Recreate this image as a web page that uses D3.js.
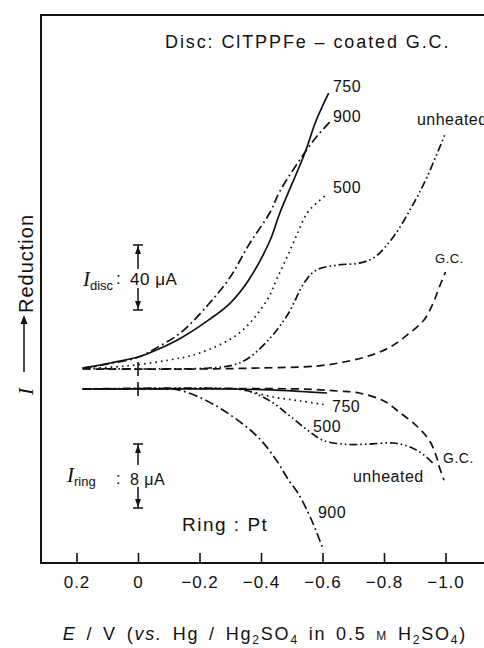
<!DOCTYPE html>
<html>
<head>
<meta charset="utf-8">
<script src="https://cdn.jsdelivr.net/npm/d3@7"></script>
<style>
body { margin: 0; background: #fff; }
svg text { font-family: "Liberation Sans", Arial, sans-serif; fill: #111; }
</style>
</head>
<body>
<svg id="chart" width="484" height="648"></svg>
<script>
// curves: [E / V vs Hg/Hg2SO4, I / µA]
const disc750 = [[0.18,0.5],[0.09,3.7],[0.0,7.4],[-0.06,11.7],[-0.14,19.1],[-0.23,30.2],[-0.30,40.6],[-0.36,54.8],[-0.43,79.4],[-0.46,95.4],[-0.54,131.7],[-0.58,153.2],[-0.62,169.8]];
const disc900 = [[0.18,0.5],[0.09,3.4],[0.0,7.2],[-0.06,13],[-0.14,22.5],[-0.23,40],[-0.30,56.6],[-0.36,76.3],[-0.43,96.6],[-0.46,108.9],[-0.53,129.8],[-0.58,142.8],[-0.63,153.2]];
const disc500 = [[0.18,0.3],[0.04,1.8],[-0.10,5.5],[-0.20,9.8],[-0.33,22.2],[-0.42,42.5],[-0.45,54.8],[-0.485,69],[-0.52,84],[-0.55,96],[-0.58,102],[-0.615,107.5]];
const discUnheated = [[0.18,0.3],[-0.04,0],[-0.23,0.6],[-0.31,2.5],[-0.36,6.8],[-0.43,19.1],[-0.49,34.5],[-0.54,52.9],[-0.58,60.9],[-0.65,64],[-0.72,65.2],[-0.77,68.9],[-0.83,81.2],[-0.89,99.7],[-0.94,118.2],[-1.0,145.2]];
const discGC = [[0.18,0],[-0.20,0],[-0.39,0.6],[-0.58,1.8],[-0.67,4.3],[-0.75,8],[-0.82,13.5],[-0.875,20.9],[-0.93,30.2],[-0.96,40.6],[-0.98,50.5],[-1.0,59.7]];

const ring750 = [[0.18,0],[-0.30,0],[-0.43,0.12],[-0.53,0.31],[-0.615,0.5]];
const ring500 = [[0.18,0],[-0.30,0],[-0.34,0.12],[-0.44,1.0],[-0.53,1.5],[-0.615,2.0]];
const ring900 = [[0.18,0],[-0.07,0],[-0.13,0.1],[-0.22,1.4],[-0.31,3.5],[-0.39,6.0],[-0.45,8.9],[-0.49,11.4],[-0.52,13],[-0.56,16],[-0.60,19.8]];
const ringUnheated = [[0.18,0],[-0.33,0],[-0.36,0.25],[-0.43,1.5],[-0.49,3.25],[-0.55,5.1],[-0.60,6.4],[-0.67,6.9],[-0.745,6.9],[-0.83,6.75],[-0.885,7.25],[-0.93,8.25],[-0.965,9.5]];
const ringGC = [[0.18,0],[-0.53,0],[-0.65,0.25],[-0.72,0.5],[-0.80,1.5],[-0.85,2.9],[-0.91,4.75],[-0.95,6.6],[-0.97,8.4],[-0.98,9.75],[-0.995,11.4]];

const xTicks = [0.2, 0, -0.2, -0.4, -0.6, -0.8, -1.0];

// line style per curve
const dashes = {
    "750": null,
    "900": "9,3.5,1.8,3.5",
    "500": "1.6,4",
    "unheated": "8,3,1.6,3,1.6,3",
    "G.C.": "8,5"
};

const svg = d3.select("svg#chart");

const x = d3.scaleLinear().domain([0.2, -1.0]).range([76.5, 445.5]);
const yDisc = d3.scaleLinear().domain([0, 40]).range([369, 304]);
const yRing = d3.scaleLinear().domain([0, 8]).range([389, 453]);

// frame
svg.append("path")
    .attr("d", "M484,15H41V563H484")
    .attr("fill", "none")
    .attr("stroke", "#111")
    .attr("stroke-width", 2);

// bottom axis with inner ticks
const axis = svg.append("g")
    .attr("transform", "translate(0,563)")
    .call(d3.axisBottom(x)
        .tickValues(xTicks)
        .tickSize(-10)
        .tickPadding(13)
        .tickFormat(d => d === 0 ? "0" : d.toFixed(1).replace("-", "\u2212")));
axis.select(".domain").remove();
axis.selectAll(".tick line").attr("stroke", "#111").attr("stroke-width", 1.6);
axis.selectAll(".tick text")
    .attr("fill", "#111")
    .style("font-family", "'Liberation Sans', Arial, sans-serif")
    .style("font-size", "17px")
    .style("letter-spacing", "1px");

// curves
function drawSet(series, y) {
    const line = d3.line()
        .x(d => x(d[0]))
        .y(d => y(d[1]))
        .curve(d3.curveCatmullRom.alpha(0.5));
    svg.append("g").selectAll("path")
        .data(series)
        .join("path")
        .attr("d", d => line(d.pts))
        .attr("fill", "none")
        .attr("stroke", "#111")
        .attr("stroke-width", 1.7)
        .attr("stroke-dasharray", d => dashes[d.name]);
}

drawSet([
    {name: "G.C.", pts: discGC},
    {name: "unheated", pts: discUnheated},
    {name: "500", pts: disc500},
    {name: "900", pts: disc900},
    {name: "750", pts: disc750}
], yDisc);

drawSet([
    {name: "G.C.", pts: ringGC},
    {name: "unheated", pts: ringUnheated},
    {name: "500", pts: ring500},
    {name: "900", pts: ring900},
    {name: "750", pts: ring750}
], yRing);

// zero-potential crosses on the baselines
[yDisc(0), yRing(0)].forEach(yy => {
    svg.append("line")
        .attr("x1", x(0)).attr("x2", x(0))
        .attr("y1", yy - 7).attr("y2", yy + 7)
        .attr("stroke", "#111").attr("stroke-width", 1.6);
});

// curve labels
function label(text, e, yy, size) {
    svg.append("text")
        .attr("x", x(e))
        .attr("y", yy)
        .style("font-size", (size || 16) + "px")
        .style("letter-spacing", "0.5px")
        .text(text);
}
label("750", -0.634, yDisc(170.5));
label("900", -0.634, yDisc(152));
label("500", -0.634, yDisc(108.3));
label("unheated", -0.907, yDisc(150.2));
label("G.C.", -0.966, yDisc(65.2), 13);

label("750", -0.631, yRing(2.9));
label("500", -0.569, yRing(5.4));
label("unheated", -0.699, yRing(11.6));
label("G.C.", -0.992, yRing(9.25), 14);
label("900", -0.585, yRing(16.1));

// scale bars
function scaleBar(cx, top, bottom, gapTop, gapBottom) {
    const g = svg.append("g").attr("stroke", "#111").attr("stroke-width", 1.5);
    g.append("line").attr("x1", cx - 5).attr("x2", cx + 5).attr("y1", top).attr("y2", top);
    g.append("line").attr("x1", cx - 5).attr("x2", cx + 5).attr("y1", bottom).attr("y2", bottom);
    g.append("line").attr("x1", cx).attr("x2", cx).attr("y1", top).attr("y2", gapTop);
    g.append("line").attr("x1", cx).attr("x2", cx).attr("y1", gapBottom).attr("y2", bottom);
    g.append("path").attr("d", `M${cx},${top + 1}L${cx - 3},${top + 9}L${cx + 3},${top + 9}Z`).attr("fill", "#111").attr("stroke", "none");
    g.append("path").attr("d", `M${cx},${bottom - 1}L${cx - 3},${bottom - 9}L${cx + 3},${bottom - 9}Z`).attr("fill", "#111").attr("stroke", "none");
}
const discBarTop = 245;
scaleBar(x(0), discBarTop, discBarTop + (yDisc(0) - yDisc(40)), 269, 288);
const ringBarTop = 444;
scaleBar(x(0), ringBarTop, ringBarTop + (yRing(8) - yRing(0)), 465, 487);

function barLabel(xi, baseline, sub) {
    const t = svg.append("text").attr("x", xi).attr("y", baseline);
    t.append("tspan")
        .style("font-family", "'Liberation Serif', serif")
        .style("font-style", "italic")
        .style("font-size", "21px")
        .text("I");
    t.append("tspan")
        .attr("dy", 4)
        .style("font-size", "13px")
        .text(sub);
    return t;
}
barLabel(83, 286, "disc");
svg.append("text").attr("x", 116).attr("y", 284).style("font-size", "17px").text(":");
svg.append("text").attr("x", 130).attr("y", 285).style("font-size", "17px").style("letter-spacing", "0.5px").text("40 \u03bcA");

barLabel(67, 482, "ring");
svg.append("text").attr("x", 116).attr("y", 484).style("font-size", "16px").text(":");
svg.append("text").attr("x", 130).attr("y", 485).style("font-size", "16px").style("letter-spacing", "0.5px").text("8 \u03bcA");

// titles
svg.append("text")
    .attr("x", 165).attr("y", 48)
    .style("font-size", "18px")
    .style("letter-spacing", "1.9px")
    .text("Disc:  ClTPPFe \u2013 coated  G.C.");

svg.append("text")
    .attr("x", 182).attr("y", 531)
    .style("font-size", "19px")
    .style("letter-spacing", "1.5px")
    .text("Ring : Pt");

// y label: I --> Reduction
svg.append("text")
    .attr("transform", "translate(33,395) rotate(-90)")
    .style("font-family", "'Liberation Serif', serif")
    .style("font-style", "italic")
    .style("font-size", "21px")
    .text("I");
svg.append("line")
    .attr("x1", 24).attr("x2", 24).attr("y1", 372).attr("y2", 322)
    .attr("stroke", "#111").attr("stroke-width", 1.5);
svg.append("path")
    .attr("d", "M24,315L20.5,324L27.5,324Z")
    .attr("fill", "#111");
svg.append("text")
    .attr("transform", "translate(33,313) rotate(-90)")
    .style("font-size", "20px")
    .style("letter-spacing", "1px")
    .text("Reduction");

// x axis title
const xt = svg.append("text")
    .attr("x", 265).attr("y", 640)
    .attr("text-anchor", "middle")
    .style("font-size", "18px")
    .style("letter-spacing", "1.8px")
    .style("word-spacing", "3px");
xt.append("tspan").style("font-style", "italic").text("E");
xt.append("tspan").text(" / V (");
xt.append("tspan").style("font-style", "italic").text("vs.");
xt.append("tspan").text(" Hg / Hg");
xt.append("tspan").attr("dy", 3.5).style("font-size", "12px").text("2");
xt.append("tspan").attr("dy", -3.5).text("SO");
xt.append("tspan").attr("dy", 3.5).style("font-size", "12px").text("4");
xt.append("tspan").attr("dy", -3.5).text("  in  0.5 ");
xt.append("tspan").style("font-size", "12px").text("M");
xt.append("tspan").text(" H");
xt.append("tspan").attr("dy", 3.5).style("font-size", "12px").text("2");
xt.append("tspan").attr("dy", -3.5).text("SO");
xt.append("tspan").attr("dy", 3.5).style("font-size", "12px").text("4");
xt.append("tspan").attr("dy", -3.5).text(")");
</script>
</body>
</html>
